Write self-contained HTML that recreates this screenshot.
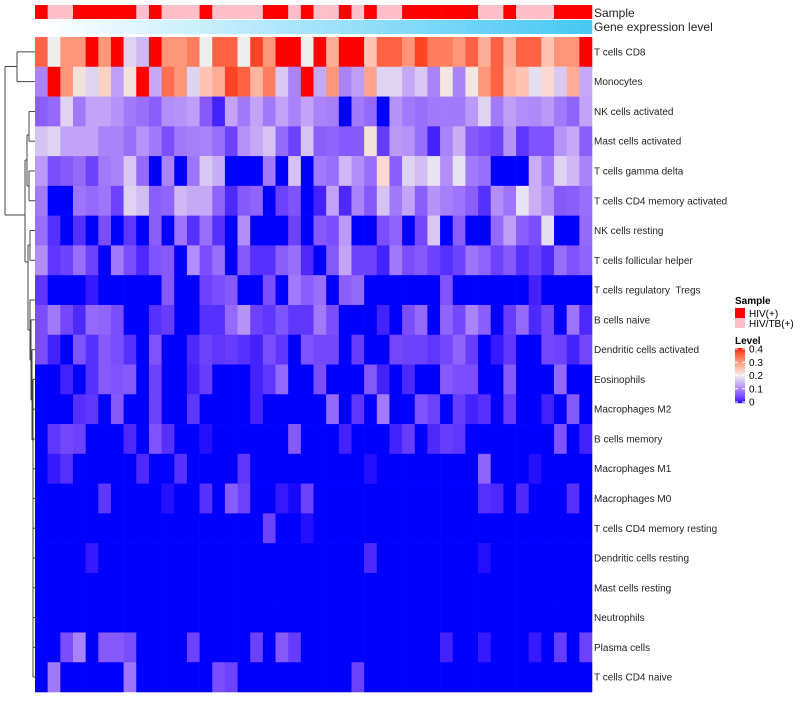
<!DOCTYPE html>
<html><head><meta charset="utf-8">
<style>
html,body{margin:0;padding:0;background:#fff;}
body{width:800px;height:700px;overflow:hidden;font-family:"Liberation Sans",sans-serif;}
svg text{font-family:"Liberation Sans",sans-serif;white-space:pre;}
</style></head>
<body>
<svg id="chart" width="800" height="700" xmlns="http://www.w3.org/2000/svg"></svg>
<script>
const rowLabels = ["T cells CD8","Monocytes","NK cells activated","Mast cells activated","T cells gamma delta","T cells CD4 memory activated","NK cells resting","T cells follicular helper","T cells regulatory  Tregs","B cells naive","Dendritic cells activated","Eosinophils","Macrophages M2","B cells memory","Macrophages M1","Macrophages M0","T cells CD4 memory resting","Dendritic cells resting","Mast cells resting","Neutrophils","Plasma cells","T cells CD4 naive"];
const sampleGroup = "HPPHHHHHPHPPPHPPPPHHPHPPHPHPPHHHHHHPPHPPPHHH".split("").map(c=>c==="H"?"HIV(+)":"HIV/TB(+)");
const legendTicks = [0,0.1,0.2,0.3,0.4];
// level values in units of 0.05 (multiply by 0.05)
const levelRows = [
[7,4,6,6,8,6,8,3.5,3,8,6,6,6.5,4,7,7,4,7.5,6,8,8,4, 8,5.5,8,8,5,7,7,6,7.5,6.5,6.5,6,7,5.5,7,5.5,7,7,5,6,6,8],
[2,8,6,4.3,3.5,4.7,2.5,4.3,8,2.7,6.8,6,3.5,5,5.5,7.5,7,5.3,6.5,3.3,2,8, 2.7,6,2,2.5,5.7,3.5,3.5,2.7,3.3,2,4.2,2,4.2,6,7,5.3,5,3.7,4.5,3.3,5.5,2.7],
[1.3,1.5,3.5,1.8,2.6,2.6,2.3,1.8,1.6,1.3,2.2,2.3,2.5,1.2,0.3,2.6,1.8,2.6,1.8,2.6,2,2.6, 2,1.9,0,1.8,1.5,0,2.3,1.8,1.6,1.8,1.8,1.8,2.4,3.5,1.8,2.5,2.2,2.1,2.4,1.8,1.4,2.6],
[3.2,3.5,2.6,2.6,2.6,2,2,1.6,2.3,1.8,1,1.8,1.9,2,1.6,0.8,2.3,2.7,3.2,1.5,0.8,3.2, 1.3,1.4,1.2,1.2,4.3,0.7,2.4,2.3,1.6,0.3,2,2.8,1.2,1,0.8,2.3,0.6,1.1,1.1,2.3,2.7,1.3],
[2.4,1,1.2,1.5,0.8,1.8,2,3.3,1.5,0,2,0,1.7,3.3,2.8,0,0,0,1.8,0,3.2,0, 1.8,1.6,3,2.2,1.6,4.5,1.3,3.5,3.1,3.8,2.2,3.8,1.8,1.6,0,0,0,2.8,1.8,3.5,3,2],
[1.8,0,0,1.7,1.5,1.7,0.8,3.5,3.1,1.3,1.4,3,2.7,2.7,1.4,0.4,1.2,1.4,0,0.8,1.1,0, 0.3,2.6,0.4,2,1.2,3.2,1.8,2.6,1.3,2.3,1.9,1.7,1.3,0.5,2.2,1.7,3.8,2.8,2.2,1.2,1.3,1.6],
[1.6,0.5,0,0.5,0,1,0,0.6,0,1.3,0,1.7,0.5,1.6,0.5,0,2.2,0,0,0,0.8,0, 1.2,1,2.4,0,0,1,1.4,0,0.9,3.3,0,1.3,0,0,1.5,2.5,1.3,1,3.7,0,0,1.5],
[2.2,0.6,0.8,1.6,0.8,0,1.8,1,0.4,1.1,1.2,0,2.2,1,1.6,0,1.2,0.5,0.5,1.3,1.6,0.4, 0,1.2,2.6,0.8,0.8,0.3,1.8,1,1.2,0.8,0.5,0.8,1.7,1.4,0.8,1.2,0.5,0.8,0.4,1.6,1.1,1.4],
[0.6,0,0,0,0.2,0,0,0,0,0,1.2,0,0,0.8,1,1.2,0,0,1,0,1.8,1.3, 1.6,0,1.3,1.5,0,0,0,0,0,0,1.1,0,0,0,0,0,0,0.3,0,0,0,0],
[1.0,1.8,0.9,0.4,1.5,1.4,1.0,0,0,0.5,0.7,0,0,0.5,0.5,1.5,2.3,0.8,0.6,1.1,0.6,0.6, 1.8,1.0,0,0,0,0.3,0,1.0,1.5,0,1.4,0.9,2.0,1.3,0,0.7,1.5,0.4,0.9,0,1.7,0.4],
[1.0,0.3,0,1.1,0.5,1.2,1.0,0.5,0,1.1,0,0,0.4,0.8,0.6,0.7,0.5,0.3,1.0,0.6,0,1.1, 0.9,0.9,0,0.7,0,0,0.9,0.8,0.8,0.6,0.9,1.4,0.7,0,0.2,0.6,0,0,0.9,0.8,0.3,0.9],
[0,0,0.3,0,0.5,1.2,1.1,1.2,0,0.8,0,0,0.3,0.7,0,0,0,0.3,0.6,1.5,0,0, 1.0,0,0,0,1.2,0.3,0,0.4,0,0,1.2,1.0,1.0,0,0,1.2,0,0,0,1.5,0,0],
[0,0,0,0.5,0.6,0,1.2,0,0,0.8,0,0,0.6,0,0,0,0,0.3,0,0,0,0, 0,1.5,0,0.6,0,1.8,0,0,1.1,0.8,0,0.7,0.3,0.5,0,0.7,0,0,0.3,0,1.2,0],
[0,0.6,0.9,0.8,0,0,0,0.4,0,1.1,0.5,0,0,0.1,0,0,0,0,0,0,1.2,0, 0,0,0.3,0,0,0,0.3,0.7,0,0.4,0.7,0.6,0,0,0,0,0,0,0,1.1,0,0.3],
[0,0.2,0.5,0,0,0,0,0,0.4,0,0,0.5,0,0,0,0,0.6,0,0,0,0,0, 0,0,0,0,0.1,0,0,0,0,0,0,0,0,1.4,0,0,0,0.1,0,0,0,0],
[0,0,0,0,0,0.6,0,0,0,0,0.1,0,0,0.5,0,1.3,0.8,0,0,0.2,0.05,0.8, 0,0,0,0,0,0,0,0,0,0,0,0,0,0.5,0.4,0,0.4,0,0,0,0.5,0],
[0,0,0,0,0,0,0,0,0,0,0,0,0,0,0,0,0,0,0.8,0,0,0.1, 0,0,0,0,0,0,0,0,0,0,0,0,0,0,0,0,0,0,0,0,0,0],
[0,0,0,0,0.2,0,0,0,0,0,0,0,0,0,0,0,0,0,0,0,0,0, 0,0,0,0,0.4,0,0,0,0,0,0,0,0,0.1,0,0,0,0,0,0,0,0],
[0,0,0,0,0,0,0,0,0,0,0,0,0,0,0,0,0,0,0,0,0,0, 0,0,0,0,0,0,0,0,0,0,0,0,0,0,0,0,0,0,0,0,0,0],
[0,0,0,0,0,0,0,0,0,0,0,0,0,0,0,0,0,0,0,0,0,0, 0,0,0,0,0,0,0,0,0,0,0,0,0,0,0,0,0,0,0,0,0,0],
[0,0,1.0,2.0,0,1.2,1.2,1.0,0,0,0,0,0.8,0,0,0,0,0.8,0,1.2,0.7,0, 0,0,0,0,0,0,0,0,0,0,0.3,0,0,0.2,0,0,0,0.2,0,0.7,0,0.8],
[0,1.8,0,0,0,0,0,1.7,0,0,0,0,0,0,1.0,0.8,0,0,0,0,0,0, 0,0,0,0.8,0,0,0,0,0,0,0,0,0,0,0,0,0,0,0,0,0,0]
];
</script>
<script>
const NS="http://www.w3.org/2000/svg";
const svg=document.getElementById("chart");
const X0=35,X1=592,Y0=37,Y1=692;
const nCol=sampleGroup.length,nRow=rowLabels.length;
const cw=(X1-X0)/nCol,rh=(Y1-Y0)/nRow;
function xPos(i){return X0+i*cw;}
function yPos(r){return Y0+r*rh;}
function mk(tag,attrs){const e=document.createElementNS(NS,tag);for(const k in attrs)e.setAttribute(k,attrs[k]);return e;}
function toLin(c){c/=255;return c<=0.04045?c/12.92:Math.pow((c+0.055)/1.055,2.4);}
function toS(c){c=c<=0.0031308?12.92*c:1.055*Math.pow(c,1/2.4)-0.055;return Math.round(Math.max(0,Math.min(1,c))*255);}
function rgb2lab(r,g,b){r=toLin(r);g=toLin(g);b=toLin(b);
 let x=(r*0.4124+g*0.3576+b*0.1805)/0.95047,y=r*0.2126+g*0.7152+b*0.0722,z=(r*0.0193+g*0.1192+b*0.9505)/1.08883;
 const f=t=>t>0.008856?Math.cbrt(t):7.787*t+16/116;x=f(x);y=f(y);z=f(z);
 return [116*y-16,500*(x-y),200*(y-z)];}
function lab2rgb(L,a,bb){let y=(L+16)/116,x=a/500+y,z=y-bb/200;
 const f=t=>t*t*t>0.008856?t*t*t:(t-16/116)/7.787;x=f(x)*0.95047;y=f(y);z=f(z)*1.08883;
 const r=x*3.2406+y*-1.5372+z*-0.4986,g=x*-0.9689+y*1.8758+z*0.0415,b=x*0.0557+y*-0.2040+z*1.0570;
 return `rgb(${toS(r)},${toS(g)},${toS(b)})`;}
const cB=rgb2lab(0,0,255),cW=rgb2lab(238,238,238),cR=rgb2lab(255,0,0);
function colorOf(v){v=Math.max(0,Math.min(0.4,v));let a,b,t;
 if(v<=0.2){a=cB;b=cW;t=v/0.2;}else{a=cW;b=cR;t=(v-0.2)/0.2;}
 return lab2rgb(a[0]+(b[0]-a[0])*t,a[1]+(b[1]-a[1])*t,a[2]+(b[2]-a[2])*t);}
for(let i=0;i<nCol;i++){
 const r=mk("rect",{x:xPos(i),y:5,width:cw+0.3,height:14,fill:sampleGroup[i]==="HIV(+)"?"#ff0000":"#ffc0cb"});
 
 
 svg.appendChild(r);
 const t=i/(nCol-1);
 const g=mk("rect",{x:xPos(i),y:20,width:cw+0.3,height:14,fill:`rgb(${Math.round(255-183*t)},${Math.round(255-55*t)},${Math.round(255-10*t)})`});
 
 
 svg.appendChild(g);
}
for(let r=0;r<nRow;r++){for(let i=0;i<nCol;i++){
 const v=levelRows[r][i]*0.05;
 const c=mk("rect",{x:xPos(i),y:yPos(r),width:cw+0.3,height:rh+0.3,fill:colorOf(v)});
 
 
 svg.appendChild(c);
}
 const tx=mk("text",{x:594,y:yPos(r)+rh/2+3.5,"font-size":"10",fill:"#222"});
 tx.textContent=rowLabels[r];
 
 
 svg.appendChild(tx);
}
const t1=mk("text",{x:594,y:17,"font-size":"12",fill:"#222"});t1.textContent="Sample";


svg.appendChild(t1);
const t2=mk("text",{x:594,y:31,"font-size":"12",fill:"#222"});t2.textContent="Gene expression level";


svg.appendChild(t2);
function ym(r){return yPos(r)+rh/2;}
const segs=[
 [5,66.5,5,215],[5,66.5,17,66.5],[17,ym(0),17,ym(1)],[17,ym(0),35,ym(0)],[17,ym(1),35,ym(1)],
 [5,215,25,215],[25,160,25,262],
 [25,160,27,160],[27,135,27,186],[27,135,29,135],[29,ym(2),29,ym(3)],[29,ym(2),35,ym(2)],[29,ym(3),35,ym(3)],
 [27,186,29,186],[29,ym(4),29,ym(5)],[29,ym(4),35,ym(4)],[29,ym(5),35,ym(5)],
 [25,262,28,262],[28,245,28,330],[28,245,30,245],[30,ym(6),30,ym(7)],[30,ym(6),35,ym(6)],[30,ym(7),35,ym(7)],
 [28,330,30,330],[30,300,30,360],[30,300,35,300],[30,360,31,360],[31,ym(9),31,400],[31,ym(9),35,ym(9)],
 [31,400,32,400],[32,ym(10),32,440],[32,ym(10),35,ym(10)],[32,440,33,440],[33,ym(11),33,ym(20)],
 [33,ym(11),35,ym(11)],[33,ym(12),35,ym(12)],[33,ym(13),35,ym(13)],[33,ym(14),35,ym(14)],[33,ym(15),35,ym(15)],
 [33,ym(16),35,ym(16)],[33,ym(17),35,ym(17)],[33,ym(18),35,ym(18)],[33,ym(19),35,ym(19)],[33,ym(20),35,ym(20)],
 [33,ym(20),33,ym(21)],[33,ym(21),35,ym(21)]
];
for(const s of segs){
 const l=mk("line",{x1:s[0],y1:s[1],x2:s[2],y2:s[3],stroke:"#444","stroke-width":"1"});
 
 
 svg.appendChild(l);
}
const lg=mk("g",{});


svg.appendChild(lg);
const ls=mk("text",{x:735,y:304,"font-size":"10","font-weight":"bold",fill:"#000"});ls.textContent="Sample";


lg.appendChild(ls);
const groups=["HIV(+)","HIV/TB(+)"],gcols=["#ff0000","#ffc0cb"];
groups.forEach((g,k)=>{
 const r=mk("rect",{x:735,y:308+k*10,width:10,height:10,fill:gcols[k]});
 
 
 lg.appendChild(r);
 const t=mk("text",{x:749,y:317+k*10,"font-size":"10",fill:"#000"});t.textContent=g;
 
 
 lg.appendChild(t);
});
const ll=mk("text",{x:735,y:344,"font-size":"10","font-weight":"bold",fill:"#000"});ll.textContent="Level";


lg.appendChild(ll);
const cbTop=348,cbBot=403;
for(let k=0;k<55;k++){
 const v=0.4*(1-(k+0.5)/55);
 const r=mk("rect",{x:735,y:cbTop+k,width:10,height:1.2,fill:colorOf(v)});
 
 
 lg.appendChild(r);
}
legendTicks.forEach(v=>{
 const y=cbBot-(v/0.4)*(cbBot-cbTop-2)-1;
 const tl=mk("line",{x1:735,x2:738,y1:y,y2:y,stroke:"#fff","stroke-width":"1"});
 
 
 lg.appendChild(tl);
 const tl2=mk("line",{x1:742,x2:745,y1:y,y2:y,stroke:"#fff","stroke-width":"1"});
 
 
 lg.appendChild(tl2);
 const t=mk("text",{x:749,y:y+3.5,"font-size":"10",fill:"#000"});t.textContent=String(v);
 
 
 lg.appendChild(t);
});
</script>
</body></html>
